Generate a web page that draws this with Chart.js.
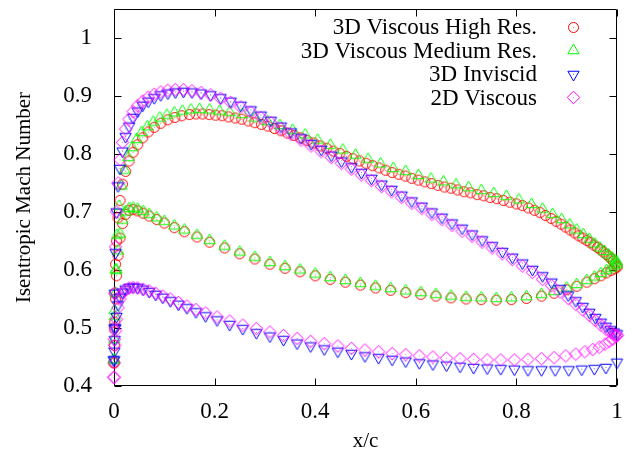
<!DOCTYPE html>
<html>
<head>
<meta charset="utf-8">
<script src="https://cdn.jsdelivr.net/npm/chart.js@4/dist/chart.umd.min.js"></script>
<style>
html,body{margin:0;padding:0;background:#fff;}
#wrap{width:640px;height:460px;}
</style>
</head>
<body>
<div id="wrap"><canvas id="c" width="640" height="460"></canvas></div>
<script>
// ---- labels ----
const seriesNames = ['3D Viscous High Res.', '3D Viscous Medium Res.', '3D Inviscid', '2D Viscous'];
const seriesColors = ['#ff0000', '#00ff00', '#0000ff', '#ff00ff'];
const xTickValues = [0, 0.2, 0.4, 0.6, 0.8, 1];
const yTickValues = [0.4, 0.5, 0.6, 0.7, 0.8, 0.9, 1];

// ---- 3D Viscous High Res. (suction side) ----
const xHighSuction = [0, 0.0005, 0.0015, 0.003, 0.005, 0.008, 0.012, 0.017, 0.023, 0.03, 0.038, 0.047, 0.057, 0.068, 0.08, 0.093, 0.107, 0.121, 0.135,
  0.15, 0.163, 0.176, 0.189, 0.202, 0.215, 0.228, 0.241, 0.254, 0.267, 0.28, 0.293, 0.306, 0.319, 0.332, 0.345, 0.358, 0.371, 0.384, 0.397,
  0.41, 0.423, 0.436, 0.449, 0.462, 0.475, 0.488, 0.501, 0.514, 0.527, 0.54, 0.553, 0.566, 0.579, 0.592, 0.605, 0.618, 0.631, 0.644, 0.657,
  0.67, 0.683, 0.696, 0.709, 0.722, 0.735, 0.748, 0.761, 0.774, 0.787, 0.8,
  0.812, 0.824, 0.836, 0.847, 0.858, 0.869, 0.879, 0.889, 0.898, 0.907, 0.916, 0.924, 0.932, 0.94, 0.947, 0.954, 0.961, 0.967, 0.973, 0.979, 0.984, 0.989, 0.993, 0.997, 1];
const machHighSuction = [0.44, 0.5, 0.56, 0.61, 0.65, 0.69, 0.72, 0.748, 0.77, 0.788, 0.803, 0.816, 0.828, 0.838, 0.846, 0.853, 0.859, 0.863, 0.866,
  0.868, 0.869, 0.869, 0.868, 0.867, 0.866, 0.864, 0.862, 0.86, 0.857, 0.854, 0.851, 0.848, 0.844, 0.84, 0.836, 0.832, 0.828, 0.823, 0.819,
  0.814, 0.81, 0.805, 0.801, 0.796, 0.792, 0.788, 0.784, 0.78, 0.776, 0.772, 0.768, 0.765, 0.762, 0.758, 0.755, 0.752, 0.749, 0.746, 0.743,
  0.741, 0.738, 0.735, 0.733, 0.73, 0.728, 0.725, 0.723, 0.72, 0.717, 0.714,
  0.711, 0.707, 0.703, 0.699, 0.694, 0.689, 0.684, 0.679, 0.674, 0.669, 0.664, 0.659, 0.655, 0.651, 0.647, 0.643, 0.639, 0.635, 0.631, 0.627, 0.623, 0.619, 0.615, 0.611, 0.607];

// ---- 3D Viscous Medium Res. (suction side) ----
const xMediumSuction = [0, 0.001, 0.003, 0.006, 0.01, 0.015, 0.021, 0.028, 0.036, 0.045, 0.055, 0.066, 0.078, 0.091, 0.105, 0.12, 0.136, 0.153, 0.17,
  0.19, 0.21, 0.23, 0.255, 0.28, 0.305, 0.33, 0.355, 0.38, 0.405, 0.43, 0.455, 0.48, 0.505, 0.53, 0.555, 0.58, 0.605, 0.63, 0.655, 0.68,
  0.705, 0.73, 0.755, 0.78, 0.805, 0.83, 0.852, 0.872, 0.89, 0.906, 0.92, 0.933, 0.945, 0.956, 0.966, 0.975, 0.983, 0.99, 0.996, 1];
const machMediumSuction = [0.445, 0.53, 0.6, 0.66, 0.71, 0.745, 0.772, 0.794, 0.811, 0.825, 0.837, 0.847, 0.855, 0.862, 0.867, 0.871, 0.874, 0.876, 0.877,
  0.876, 0.874, 0.872, 0.868, 0.862, 0.856, 0.849, 0.841, 0.833, 0.824, 0.815, 0.807, 0.798, 0.791, 0.783, 0.775, 0.77, 0.763, 0.757, 0.752, 0.747,
  0.742, 0.737, 0.732, 0.727, 0.721, 0.713, 0.705, 0.696, 0.687, 0.678, 0.669, 0.661, 0.653, 0.645, 0.638, 0.632, 0.626, 0.621, 0.617, 0.614];

// ---- viscous runs, pressure side ----
const xViscousPressure = [0, 0.0005, 0.0015, 0.003, 0.005, 0.008, 0.012, 0.017, 0.023, 0.03, 0.038, 0.047, 0.058, 0.07, 0.085, 0.1, 0.12, 0.14, 0.165, 0.19,
  0.22, 0.25, 0.28, 0.31, 0.34, 0.37, 0.4, 0.43, 0.46, 0.49, 0.52, 0.55, 0.58, 0.61, 0.64, 0.67, 0.7, 0.73, 0.76, 0.79, 0.82, 0.85,
  0.875, 0.9, 0.92, 0.94, 0.955, 0.968, 0.979, 0.988, 0.995, 1];
const machHighPressure = [0.44, 0.47, 0.51, 0.55, 0.59, 0.625, 0.655, 0.68, 0.696, 0.703, 0.704, 0.702, 0.698, 0.693, 0.687, 0.681, 0.673, 0.666, 0.657, 0.648,
  0.638, 0.628, 0.619, 0.61, 0.603, 0.597, 0.59, 0.584, 0.579, 0.574, 0.569, 0.565, 0.561, 0.558, 0.555, 0.552, 0.55, 0.549, 0.548, 0.549, 0.551, 0.555,
  0.56, 0.566, 0.572, 0.579, 0.585, 0.59, 0.595, 0.599, 0.602, 0.605];
const machMediumPressure = [0.445, 0.48, 0.52, 0.56, 0.6, 0.633, 0.662, 0.686, 0.7, 0.706, 0.707, 0.705, 0.701, 0.696, 0.69, 0.684, 0.676, 0.669, 0.66, 0.651,
  0.641, 0.631, 0.622, 0.613, 0.606, 0.6, 0.593, 0.587, 0.582, 0.577, 0.572, 0.568, 0.564, 0.561, 0.558, 0.555, 0.553, 0.552, 0.551, 0.552, 0.554, 0.558,
  0.563, 0.569, 0.575, 0.582, 0.588, 0.594, 0.599, 0.603, 0.607, 0.61];

// ---- inviscid / 2D, suction side ----
const xInviscidSuction = [0, 0.0005, 0.0015, 0.003, 0.005, 0.008, 0.012, 0.017, 0.023, 0.03, 0.038, 0.047, 0.057, 0.068, 0.08, 0.093, 0.107, 0.122, 0.138, 0.155, 0.173, 0.192,
  0.212, 0.232, 0.252, 0.272, 0.292, 0.312, 0.332, 0.352, 0.372, 0.392, 0.412, 0.432, 0.452, 0.472, 0.492, 0.512, 0.532, 0.552, 0.572, 0.592,
  0.612, 0.632, 0.652, 0.672, 0.692, 0.712, 0.732, 0.752, 0.772, 0.792, 0.812, 0.832, 0.852,
  0.87, 0.887, 0.903, 0.918, 0.932, 0.945, 0.957, 0.968, 0.978, 0.987, 0.994, 1];
const machInviscidSuction = [0.445, 0.5, 0.56, 0.63, 0.7, 0.745, 0.775, 0.805, 0.83, 0.848, 0.863, 0.874, 0.884, 0.891, 0.897, 0.902, 0.905, 0.907, 0.908, 0.907, 0.905, 0.902,
  0.897, 0.891, 0.884, 0.876, 0.867, 0.858, 0.848, 0.838, 0.828, 0.818, 0.808, 0.798, 0.788, 0.778, 0.768, 0.758, 0.748, 0.739, 0.729, 0.719,
  0.71, 0.7, 0.691, 0.681, 0.672, 0.662, 0.652, 0.642, 0.632, 0.622, 0.612, 0.601, 0.59,
  0.579, 0.568, 0.557, 0.547, 0.537, 0.527, 0.518, 0.51, 0.503, 0.497, 0.493, 0.49];
const mach2DSuction = [0.415, 0.48, 0.56, 0.64, 0.7, 0.75, 0.79, 0.82, 0.843, 0.86, 0.873, 0.883, 0.891, 0.898, 0.903, 0.907, 0.91, 0.911, 0.911, 0.909, 0.906, 0.902,
  0.896, 0.889, 0.881, 0.872, 0.863, 0.854, 0.844, 0.834, 0.824, 0.814, 0.804, 0.794, 0.784, 0.774, 0.764, 0.754, 0.744, 0.735, 0.725, 0.715,
  0.706, 0.696, 0.687, 0.677, 0.667, 0.658, 0.648, 0.638, 0.628, 0.618, 0.607, 0.596, 0.584,
  0.573, 0.562, 0.551, 0.541, 0.531, 0.522, 0.513, 0.505, 0.498, 0.493, 0.489, 0.487];

// ---- 3D Inviscid, pressure side ----
const xInviscidPressure = [0, 0.0005, 0.0015, 0.003, 0.005, 0.008, 0.012, 0.017, 0.023, 0.03, 0.038, 0.047, 0.058, 0.07, 0.083, 0.097, 0.112, 0.128, 0.145, 0.163, 0.182, 0.205,
  0.23, 0.256, 0.283, 0.31, 0.337, 0.364, 0.391, 0.418, 0.445, 0.472, 0.499, 0.526, 0.553, 0.58, 0.607, 0.634, 0.661, 0.688, 0.715, 0.742, 0.769, 0.796, 0.823, 0.85,
  0.877, 0.904, 0.93, 0.955, 0.978, 1];
const machInviscidPressure = [0.445, 0.46, 0.48, 0.5, 0.52, 0.54, 0.553, 0.562, 0.567, 0.57, 0.571, 0.57, 0.567, 0.563, 0.558, 0.553, 0.547, 0.541, 0.535, 0.528, 0.521, 0.514,
  0.506, 0.499, 0.492, 0.486, 0.48, 0.474, 0.469, 0.464, 0.46, 0.456, 0.452, 0.449, 0.446, 0.443, 0.44, 0.438, 0.436, 0.434, 0.432, 0.431, 0.43, 0.429, 0.428, 0.428,
  0.428, 0.428, 0.429, 0.43, 0.432, 0.441];

// ---- 2D Viscous, pressure side ----
const x2DPressure = [0, 0.0005, 0.0015, 0.003, 0.005, 0.008, 0.012, 0.017, 0.023, 0.03, 0.038, 0.047, 0.058, 0.07, 0.083, 0.097, 0.112, 0.128, 0.145, 0.163, 0.182, 0.205,
  0.23, 0.256, 0.283, 0.31, 0.337, 0.364, 0.391, 0.418, 0.445, 0.472, 0.499, 0.526, 0.553, 0.58, 0.607, 0.634, 0.661, 0.688, 0.715, 0.742, 0.769, 0.796, 0.823, 0.85,
  0.875, 0.898, 0.918, 0.936, 0.952, 0.965, 0.976, 0.985, 0.992, 0.997, 1];
const mach2DPressure = [0.415, 0.44, 0.47, 0.495, 0.515, 0.535, 0.55, 0.56, 0.566, 0.569, 0.57, 0.569, 0.567, 0.564, 0.56, 0.555, 0.55, 0.544, 0.538, 0.532, 0.526, 0.519,
  0.512, 0.505, 0.499, 0.493, 0.487, 0.482, 0.477, 0.473, 0.469, 0.465, 0.462, 0.459, 0.456, 0.454, 0.452, 0.45, 0.448, 0.447, 0.446, 0.445, 0.445, 0.445, 0.446, 0.447,
  0.449, 0.452, 0.455, 0.459, 0.463, 0.467, 0.472, 0.477, 0.481, 0.485, 0.488];

// ---- build ----
function pairs(xs, ys) { return xs.map((x, i) => ({ x: x, y: ys[i] })); }

const markerStyles = [
  { pointStyle: 'circle', radius: 5, rotation: 0 },
  { pointStyle: 'triangle', radius: 6.5, rotation: 0 },
  { pointStyle: 'triangle', radius: 6.5, rotation: 180 },
  { pointStyle: 'rectRot', radius: 6.3, rotation: 0 }
];

function markerPath(ctx, style, r, rot, x, y) {
  ctx.beginPath();
  if (style === 'circle') {
    ctx.arc(x, y, r, 0, Math.PI * 2);
  } else if (style === 'triangle') {
    let a = rot * Math.PI / 180;
    for (let k = 0; k < 3; k++) {
      const px = x + Math.sin(a) * r, py = y - Math.cos(a) * r;
      if (k === 0) ctx.moveTo(px, py); else ctx.lineTo(px, py);
      a += 2 * Math.PI / 3;
    }
    ctx.closePath();
  } else {
    ctx.moveTo(x, y - r); ctx.lineTo(x + r, y); ctx.lineTo(x, y + r); ctx.lineTo(x - r, y);
    ctx.closePath();
  }
}

// open marker with small centre dot, as gnuplot draws them
function markerImage(i) {
  const m = markerStyles[i];
  const size = 2 * Math.ceil(m.radius + 2) + 1;
  const c = document.createElement('canvas');
  c.width = size; c.height = size;
  const g = c.getContext('2d');
  const cx = size / 2;
  markerPath(g, m.pointStyle, m.radius, m.rotation, cx, cx);
  g.strokeStyle = seriesColors[i];
  g.lineWidth = 1;
  g.stroke();
  g.globalAlpha = 0.55;
  g.fillStyle = seriesColors[i];
  g.fillRect(cx - 0.5, cx - 0.5, 1, 1);
  return c;
}

const seriesData = [
  pairs(xHighSuction, machHighSuction).concat(pairs(xViscousPressure, machHighPressure)),
  pairs(xMediumSuction, machMediumSuction).concat(pairs(xViscousPressure, machMediumPressure)),
  pairs(xInviscidSuction, machInviscidSuction).concat(pairs(xInviscidPressure, machInviscidPressure)),
  pairs(xInviscidSuction, mach2DSuction).concat(pairs(x2DPressure, mach2DPressure))
];

const markerImages = seriesNames.map((n, i) => markerImage(i));

const datasets = seriesNames.map((name, i) => ({
  label: name,
  data: seriesData[i],
  order: 4 - i,
  clip: false,
  showLine: false,
  pointStyle: markerImages[i],
  pointRadius: markerStyles[i].radius,
  pointBorderWidth: 1,
  pointBorderColor: seriesColors[i],
  pointBackgroundColor: 'rgba(0,0,0,0)'
}));

const FONT = 'Liberation Serif';

const framePlugin = {
  id: 'gnuplotFrame',
  beforeDatasetsDraw(chart) {
    const ctx = chart.ctx, a = chart.chartArea;
    const xs = chart.scales.x, ys = chart.scales.y;
    ctx.save();
    ctx.strokeStyle = '#000';
    ctx.lineWidth = 1;
    ctx.beginPath();
    const L = Math.round(a.left) + 0.5, R = Math.round(a.right) - 0.5, T = Math.round(a.top) + 0.5, B = Math.round(a.bottom) - 0.5;
    ctx.rect(L, T, R - L, B - T);
    const tl = 7;
    xTickValues.forEach(v => {
      const p = Math.round(xs.getPixelForValue(v)) + 0.5;
      ctx.moveTo(p, B); ctx.lineTo(p, B - tl);
      ctx.moveTo(p, T); ctx.lineTo(p, T + tl);
    });
    yTickValues.forEach(v => {
      const p = Math.round(ys.getPixelForValue(v)) + 0.5;
      ctx.moveTo(L, p); ctx.lineTo(L + tl, p);
      ctx.moveTo(R, p); ctx.lineTo(R - tl, p);
    });
    ctx.stroke();
    ctx.restore();
  },
  afterDraw(chart) {
    const ctx = chart.ctx;
    ctx.save();
    ctx.font = '23px "' + FONT + '"';
    ctx.textAlign = 'right';
    ctx.textBaseline = 'middle';
    const rowY = [27, 50.5, 74, 97.5];
    seriesNames.forEach((name, i) => {
      ctx.fillStyle = '#000';
      ctx.fillText(name, 537, rowY[i] + 1);
      const img = markerImages[i];
      ctx.drawImage(img, Math.round(573 - img.width / 2), Math.round(rowY[i] - img.height / 2));
    });
    ctx.restore();
  }
};

new Chart(document.getElementById('c'), {
  type: 'scatter',
  data: { datasets: datasets },
  plugins: [framePlugin],
  options: {
    responsive: false,
    animation: false,
    events: [],
    devicePixelRatio: 1,
    layout: { padding: { top: 9, right: 23, left: 0, bottom: 0 } },
    plugins: { legend: { display: false }, tooltip: { enabled: false } },
    scales: {
      x: {
        type: 'linear', min: 0, max: 1,
        afterBuildTicks: s => { s.ticks = xTickValues.map(v => ({ value: v })); },
        afterFit: s => { s.height = 74; s.paddingLeft = 0; s.paddingRight = 0; },
        grid: { display: false }, border: { display: false },
        ticks: { color: '#000', font: { family: FONT, size: 23 }, padding: 4, maxRotation: 0, autoSkip: false,
          callback: v => String(v) },
        title: { display: true, text: 'x/c', color: '#000', font: { family: FONT, size: 21 }, padding: { top: 0, bottom: 6 } }
      },
      y: {
        type: 'linear', min: 0.4, max: 1.05,
        afterBuildTicks: s => { s.ticks = yTickValues.map(v => ({ value: v })); },
        afterFit: s => { s.width = 114; s.paddingTop = 0; s.paddingBottom = 0; },
        grid: { display: false }, border: { display: false },
        ticks: { color: '#000', font: { family: FONT, size: 23 }, padding: 14, autoSkip: false,
          callback: v => String(v) },
        title: { display: true, text: 'Isentropic Mach Number', color: '#000', font: { family: FONT, size: 21 }, padding: { top: 12, bottom: 0 } }
      }
    }
  }
});
</script>
</body>
</html>
